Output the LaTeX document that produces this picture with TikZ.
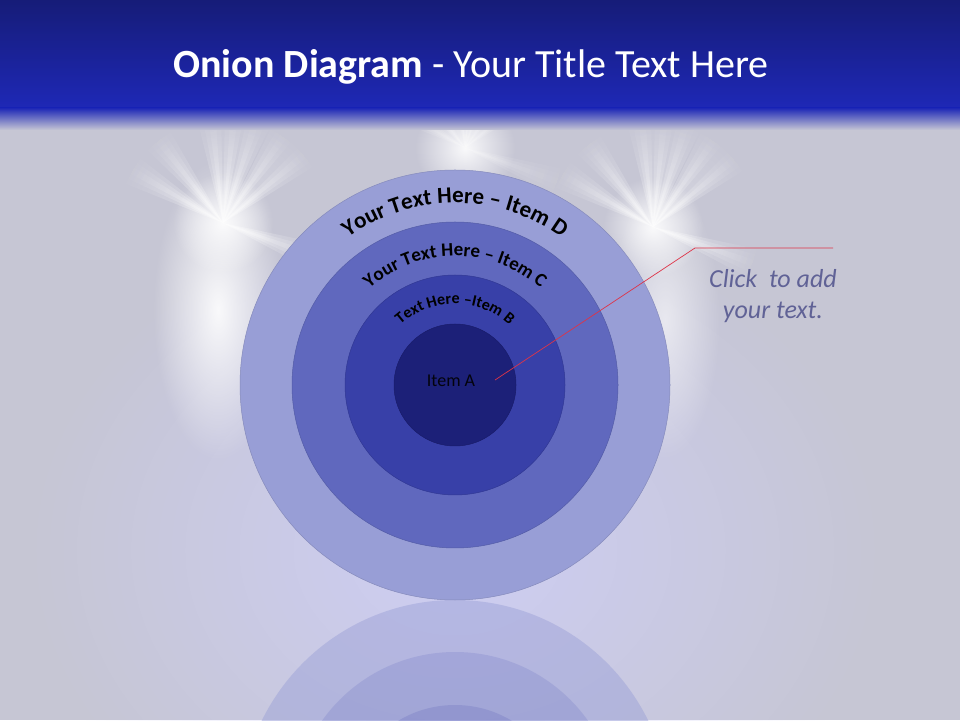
\documentclass[tikz,border=0pt]{standalone}
\usepackage{fontspec}
\setmainfont{Carlito}
\usetikzlibrary{decorations.text,fadings}

\definecolor{bgGray}{RGB}{198,198,212}
\definecolor{glowLav}{RGB}{206,206,244}
\definecolor{barTop}{RGB}{22,28,120}
\definecolor{barBot}{RGB}{30,40,182}
\definecolor{ringD}{RGB}{152,158,214}
\definecolor{ringC}{RGB}{96,104,190}
\definecolor{ringB}{RGB}{56,64,168}
\definecolor{ringA}{RGB}{28,32,120}
\definecolor{noteText}{RGB}{96,98,150}
\definecolor{pointerRed}{RGB}{222,52,72}

\tikzfading[name=glow, inner color=transparent!0, outer color=transparent!100]

\tikzset{
  ring/.style={circle, draw=#1!88!black, line width=0.5pt, fill=#1, inner sep=0pt},
  ringlabel/.style={decorate, decoration={text along path, text align=center, text={#1}}},
}

\begin{document}
\begin{tikzpicture}[x=1pt,y=1pt]

    \useasboundingbox (0,0) rectangle (960,720);
    \begin{scope}
    \clip (0,0) rectangle (960,720);
    \fill[bgGray] (0,0) rectangle (960,720);
    \fill[glowLav, path fading=glow] (455,170) ellipse (430pt and 340pt);

    % light bursts
    \fill[white, path fading=glow, fill opacity=0.9] (218,410) ellipse (65pt and 150pt);
    \fill[white, path fading=glow, fill opacity=0.6] (665,400) ellipse (55pt and 140pt);
    \foreach \gx/\gy/\op in {223/497/0.35, 653/493/0.35, 465/572/0.15} {
        \fill[white, path fading=glow, fill opacity=0.9] (\gx,\gy) circle (50pt);
        \foreach \w in {2,5,8} {
            \begin{scope}
                \clip foreach \a in {-20,40,55,72,84,96,128,150} {(\gx,\gy) -- +(\a-\w:110) -- +(\a+\w:110) -- cycle};
                \fill[white, path fading=glow, fill opacity=\op] (\gx,\gy) circle (110pt);
            \end{scope}
        }
    }

    % title bar
    \shade[top color=barTop, bottom color=barBot] (0,612) rectangle (960,720);
    \shade[top color=barBot, bottom color=bgGray] (0,590) rectangle (960,612);

    % reflection
    \fill[ringD, fill opacity=0.45] (455,-95) circle (215pt);
    \fill[ringC, fill opacity=0.2] (455,-95) circle (163pt);
    \fill[ringB, fill opacity=0.15] (455,-95) circle (110pt);
    \end{scope}

    \node at (471,653) (title) {\fontsize{40}{46}\selectfont\color{white}\textbf{Onion Diagram} - Your Title Text Here};

    \node[ring=ringD, minimum size=430pt] at (455,335) (itemD) {};
    \node[ring=ringC, minimum size=326pt] at (itemD.center) (itemC) {};
    \node[ring=ringB, minimum size=220pt] at (itemD.center) (itemB) {};
    \node[ring=ringA, minimum size=122pt] at (itemD.center) (itemA) {};

    \path[ringlabel={|\fontsize{23}{26}\selectfont\bfseries|Your Text Here – Item D}] (itemD.center) ++(170:182pt) arc[start angle=170, end angle=10, radius=182pt];
    \path[ringlabel={|\fontsize{19}{22}\selectfont\bfseries|Your Text Here – Item C}] (itemD.center) ++(170:129pt) arc[start angle=170, end angle=10, radius=129pt];
    \path[ringlabel={|\fontsize{16}{19}\selectfont\bfseries|Text Here –Item B}] (itemD.center) ++(170:81pt) arc[start angle=170, end angle=10, radius=81pt];
    \node[text=black!90!ringA, font=\fontsize{18}{20}\selectfont] at (451,339) (labelA) {Item A};

    \node[text=noteText, align=center, font=\fontsize{26}{31}\selectfont\itshape] at (773,424) (note) {Click\ \ to add\\ your text.};

    \coordinate (ptrA) at (495,340);
    \coordinate (ptrBend) at (695,472);
    \coordinate (ptrEnd) at (833,472);
    \draw[pointerRed, line width=0.7pt] (ptrA) -- (ptrBend) -- (ptrEnd);

\end{tikzpicture}
\end{document}
